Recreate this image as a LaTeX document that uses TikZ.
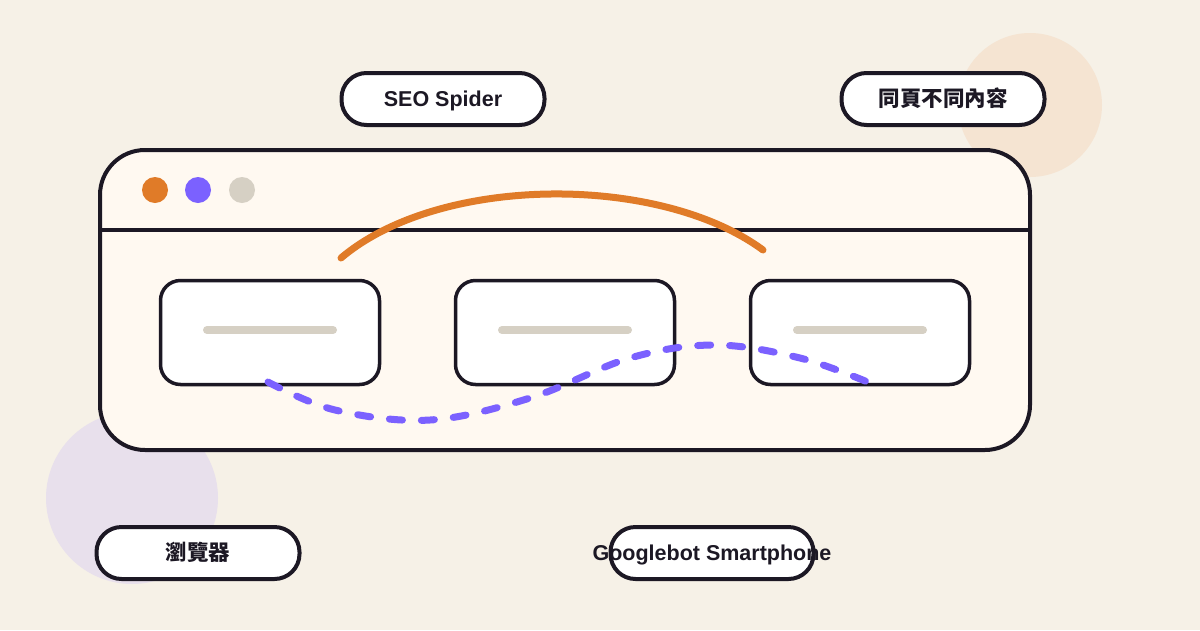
\documentclass[tikz,border=0pt]{standalone}
\usepackage{fontspec}
\setmainfont{Liberation Sans}
\newfontfamily\cjk{Noto Sans CJK TC}
\usetikzlibrary{calc}
\definecolor{paper}{HTML}{F6F1E7}
\definecolor{ink}{HTML}{1C1824}
\definecolor{win}{HTML}{FFF9F1}
\definecolor{orange}{HTML}{E07B28}
\definecolor{violet}{HTML}{7B61FF}
\definecolor{stone}{HTML}{D6D0C4}
\definecolor{peach}{HTML}{F5E4D2}
\definecolor{lilac}{HTML}{E8E0EC}
\tikzset{pill/.style={draw=ink,fill=white,line width=4pt,rounded corners=25pt,
minimum width=203pt,minimum height=52pt,inner sep=0pt,text height=16pt,text depth=0.6pt,
font=\fontsize{21.5}{24}\selectfont\bfseries,text=ink},
card/.style={draw=ink,fill=white,line width=3.5pt,rounded corners=20pt,minimum width=219pt,minimum height=104pt},
bar/.style={stone,line width=8pt,line cap=round},
dot/.style={circle,inner sep=0pt,minimum size=26pt}}
\begin{document}
\begin{tikzpicture}[x=1pt,y=-1pt]
\useasboundingbox (0,0) rectangle (1200,630);
\fill[paper] (0,0) rectangle (1200,630);
% soft discs behind the window
\fill[peach] (1030,105) circle (72);
\fill[lilac] (132,498) circle (86);
% browser window
\draw[ink,fill=win,line width=4pt,rounded corners=45pt] (100,150) rectangle (1030,450);
\draw[ink,line width=4pt] (100,230)--(1030,230);
\node[dot,fill=orange] (d1) at (155,190) {};
\node[dot,fill=violet] (d2) at (198,190) {};
\node[dot,fill=stone] (d3) at (242,190) {};
% three page cards
\foreach \cx/\nm in {270/c1,565/c2,860/c3}{
\node[card] (\nm) at (\cx,332.5) {};
\draw[bar] ($(\nm.center)+(-63,-2.5)$)--($(\nm.center)+(63,-2.5)$);}
% curves
\draw[orange,line width=7pt,line cap=round] (341,258) .. controls (440,174) and (660,174) .. (763,250);
\draw[violet,line width=7pt,line cap=round,dash pattern=on 13pt off 19pt]
plot[smooth,tension=0.6] coordinates {(268,382) (335,410) (430,420) (530,398) (630,358) (715,345) (800,358) (870,383)};
% labels
\node[pill] (seo) at (443,99) {SEO Spider};
\node[pill] (diff) at (943,99) {\cjk 同頁不同內容};
\node[pill] (brw) at (198,553) {\cjk 瀏覽器};
\node[pill] (gbot) at (712,553) {\makebox[0pt]{Googlebot Smartphone}};
\end{tikzpicture}
\end{document}
